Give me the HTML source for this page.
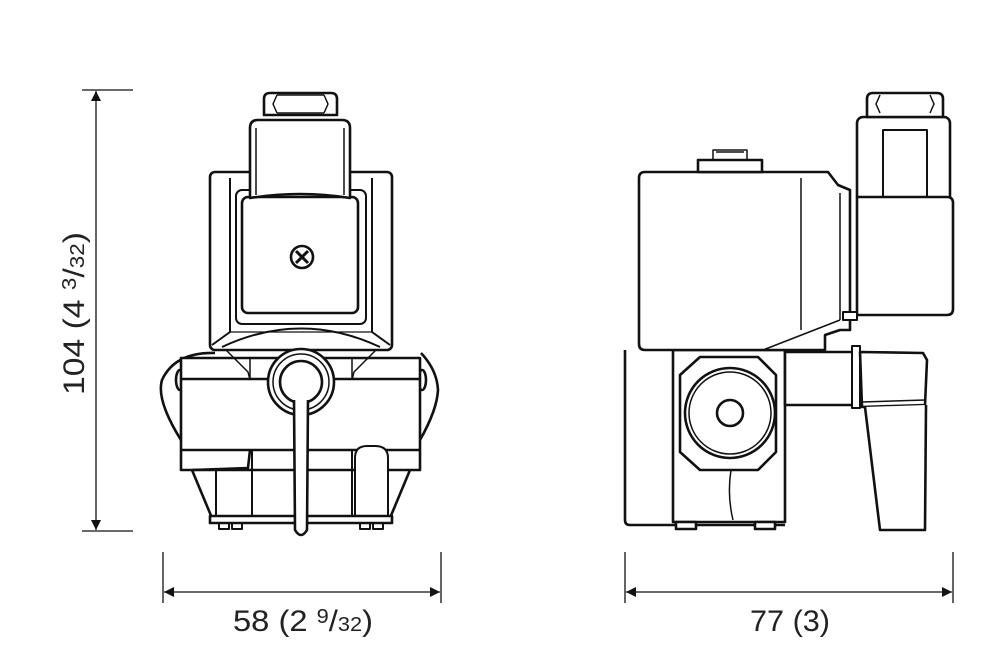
<!DOCTYPE html>
<html><head><meta charset="utf-8"><style>
html,body{margin:0;padding:0;background:#fff;}
svg{display:block;}
text{font-family:"Liberation Sans",sans-serif;fill:#222;}
</style></head><body>
<svg width="994" height="668" viewBox="0 0 994 668" xmlns="http://www.w3.org/2000/svg">
<defs>
<marker id="a" viewBox="0 0 10 10" refX="10" refY="5" markerWidth="14" markerHeight="10" markerUnits="userSpaceOnUse" orient="auto-start-reverse"><path d="M0,0 L10,5 L0,10 z" fill="#111"/></marker>
</defs>
<g stroke="#111" stroke-width="1.3" fill="none">
<!-- vertical dim -->
<line x1="82" y1="90" x2="133" y2="90"/>
<line x1="82" y1="531" x2="133" y2="531"/>
<line x1="96" y1="91" x2="96" y2="530" marker-start="url(#a)" marker-end="url(#a)"/>
<!-- horizontal dims -->
<line x1="163" y1="552" x2="163" y2="603"/>
<line x1="441" y1="552" x2="441" y2="603"/>
<line x1="164" y1="592" x2="440" y2="592" marker-start="url(#a)" marker-end="url(#a)"/>
<line x1="625" y1="552" x2="625" y2="603"/>
<line x1="953" y1="552" x2="953" y2="603"/>
<line x1="626" y1="592" x2="952" y2="592" marker-start="url(#a)" marker-end="url(#a)"/>
</g>
<text x="233" y="631" font-size="30" textLength="140" lengthAdjust="spacingAndGlyphs">58 (2 <tspan font-size="20" dy="-8">9</tspan><tspan dy="8">/</tspan><tspan font-size="20">32</tspan>)</text>
<text x="750" y="631" font-size="30" textLength="80" lengthAdjust="spacingAndGlyphs">77 (3)</text>
<text transform="translate(84,395) rotate(-90)" font-size="30" textLength="163" lengthAdjust="spacingAndGlyphs">104 (4 <tspan font-size="20" dy="-8">3</tspan><tspan dy="8">/</tspan><tspan font-size="20">32</tspan>)</text>

<!-- LEFT VIEW -->
<g stroke="#111" stroke-width="2.6" fill="#fff" stroke-linejoin="round">
<path d="M215,353 Q175,352 162,380 Q156,400 181,440 M421,353 Q437,370 438,390 Q437,410 420,440" fill="none"/>
<ellipse cx="180" cy="380" rx="4" ry="10"/>
<ellipse cx="422" cy="380" rx="4" ry="10"/>
<path d="M192,470 L212,518 L390,518 L410,470" />
<rect x="181" y="358" width="239" height="112"/>
<line x1="181" y1="379" x2="420" y2="379"/>
<line x1="181" y1="450" x2="420" y2="450"/>
<path d="M250,450 L248,468 L192,470" fill="none"/>
<rect x="216" y="470" width="36" height="48" fill="none" stroke-width="2"/>
<rect x="252" y="450" width="100" height="68" fill="none" stroke-width="2"/>
<path d="M355,518 L355,458 Q355,446 367,446 L375,446 Q388,446 388,458 L388,518" stroke-width="2"/>
<rect x="210" y="516" width="182" height="7"/>
<path d="M219,523 v6 h10 v-6 M232,523 v6 h10 v-6 M360,523 v6 h10 v-6 M373,523 v6 h10 v-6" fill="none" stroke-width="2"/>
<rect x="210" y="172" width="182" height="178" rx="5"/>
<path d="M230,178 L230,332 L212,345 M372,178 L372,332 L390,345" fill="none" stroke-width="2"/>
<path d="M222,347 Q301,310 380,347" fill="none" stroke-width="2"/>
<line x1="230" y1="332" x2="372" y2="332" stroke-width="1.2"/>
<path d="M226,350 L248,372 L250,380 M376,350 L354,372 L352,380 M250,358 L250,378 M352,358 L352,378" fill="none" stroke-width="1.5"/>
<rect x="236" y="190" width="130" height="134" rx="6" stroke-width="2"/>
<rect x="242" y="197" width="116" height="116" rx="6"/>
<path d="M250,198 L250,128 Q250,120 258,120 L342,120 Q350,120 350,128 L350,198 Q300,190 250,198 Z"/>
<path d="M256,128 L256,195 M344,128 L344,195" fill="none" stroke-width="1.5"/>
<path d="M264,115 L264,99 Q264,93 270,93 L331,93 Q337,93 337,99 L337,115 Z"/>
<path d="M277,95 L273,104 L277,113 M324,95 L328,104 L324,113 M277,95 L324,95 M277,113 L324,113" fill="none" stroke-width="1.5"/>
<circle cx="302" cy="257" r="11"/>
<path d="M296,251 L308,263 M308,251 L296,263" stroke-width="3"/>
<circle cx="301" cy="382" r="33"/>
<circle cx="301" cy="382" r="28" fill="none" stroke-width="1.5"/>
<circle cx="301" cy="382" r="21"/>
<path d="M294,400 L295,530 Q301,540 307,530 L308,400" />
</g>

<!-- RIGHT VIEW -->
<g stroke="#111" stroke-width="2.6" fill="#fff" stroke-linejoin="round">
<path d="M625,350 L625,520 Q625,525 630,525 L785,525" fill="none"/>
<rect x="673" y="350" width="112" height="172"/>
<rect x="676" y="522" width="20" height="7"/>
<rect x="755" y="522" width="20" height="7"/>
<path d="M700,357 L758,357 L776,375 L776,452 L758,470 L700,470 L680,452 L680,375 Z"/>
<circle cx="730" cy="413" r="45"/>
<circle cx="730" cy="413" r="41" fill="none" stroke-width="1.5"/>
<circle cx="730" cy="413" r="13"/>
<path d="M731,470 Q727,495 733,520" fill="none" stroke-width="1.5"/>
<rect x="785" y="352" width="72" height="53"/>
<rect x="852" y="346" width="8" height="62" stroke-width="2"/>
<path d="M860,352 L923,353 L927,360 L925,405 L862,407 Z"/>
<path d="M865,407 L880,530 L925,530 L926,405" />
<line x1="862" y1="402" x2="925" y2="400" stroke-width="1.5"/>
<path d="M639,178 Q639,172 645,172 L828,172 L838,185 L850,190 L850,330 L840,330 L825,335 L825,350 L645,350 Q639,350 639,344 Z"/>
<path d="M801,178 L801,330 M840,193 L840,320 M763,350 L840,320" fill="none" stroke-width="1.5"/>
<rect x="698" y="160" width="64" height="12"/>
<path d="M713,160 L713,150 L747,150 L747,160 M716,152 h28" fill="none" stroke-width="1.5"/>
<rect x="857" y="117" width="93" height="85" rx="6"/>
<rect x="883" y="130" width="44" height="70" stroke-width="2"/>
<path d="M857,197 L947,197 Q953,197 953,203 L953,309 Q953,315 947,315 L857,315 Z"/>
<path d="M867,117 L867,99 Q867,93 873,93 L937,93 Q943,93 943,99 L943,117 Z"/>
<path d="M880,95 L876,104 L880,113 M930,95 L934,104 L930,113" fill="none" stroke-width="1.5"/>
<rect x="843" y="312" width="14" height="8" stroke-width="2"/>
</g>
</svg>
</body></html>
